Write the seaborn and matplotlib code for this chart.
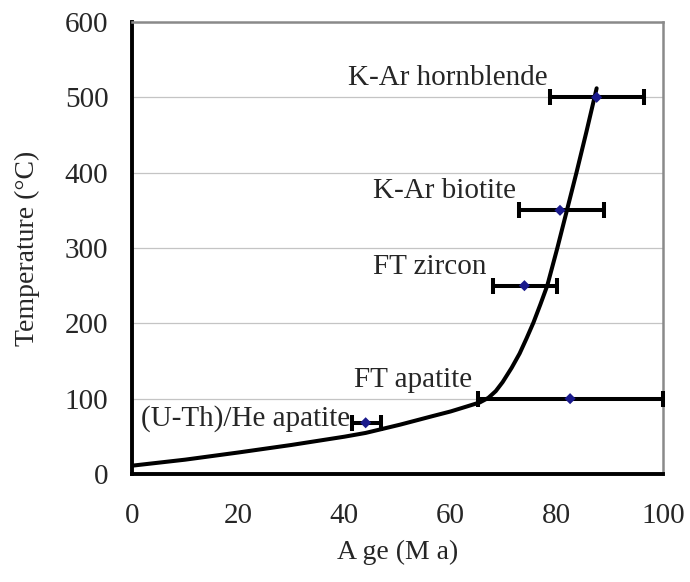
import numpy as np
import pandas as pd
import matplotlib
matplotlib.use("Agg")
import matplotlib.pyplot as plt
import seaborn as sns

# thermal history curve
curve_age = [0, 10, 20, 30, 40, 44, 50.5, 56.7, 60, 63, 65.5, 67.1, 68.5, 69.8, 71.5,
             73.0, 74.3, 75.6, 76.9, 78.2, 80.1, 81.9, 83.7, 85.6, 87.5]
curve_temp = [11, 19, 28.5, 38.5, 49.5, 54.5, 65.5, 77, 83, 89.5, 95, 101, 110, 122, 141,
              160, 180, 201, 225, 250, 300, 350, 400, 455, 512]

# thermochronometers
systems = ["K-Ar hornblende", "K-Ar biotite", "FT zircon", "FT apatite", "(U-Th)/He apatite"]
ages = [87.5, 80.6, 73.9, 82.5, 44.0]
age_min = [78.7, 72.8, 67.9, 65.2, 41.5]
age_max = [96.4, 88.8, 80.0, 100.0, 46.8]
temps = [500, 350, 250, 100, 68]

# label anchors (right end, baseline)
label_x = [78.2, 72.3, 66.8, 64.0, 41.0]
label_y = [516, 366, 266, 115, 64]

sns.set_style("white")
plt.rcParams["font.family"] = ["Liberation Serif", "DejaVu Serif"]

df_curve = pd.DataFrame({"age": curve_age, "temp": curve_temp})
df_pts = pd.DataFrame({"system": systems, "age": ages, "lo": age_min, "hi": age_max, "temp": temps})

fig = plt.figure(figsize=(6.9, 5.82), dpi=100)
ax = fig.add_axes([0.1913, 0.1856, 0.7696, 0.7766])

ax.set_xlim(0, 100)
ax.set_ylim(0, 600)
ax.set_yticks(range(0, 601, 100))
ax.set_xticks(range(0, 101, 20))
ax.yaxis.grid(True, color="#c4c4c4", lw=0.9)
ax.set_axisbelow(True)

sns.lineplot(data=df_curve, x="age", y="temp", sort=False, estimator=None,
             color="black", lw=2.9, ax=ax, zorder=3)

xerr = [df_pts["age"] - df_pts["lo"], df_pts["hi"] - df_pts["age"]]
ax.errorbar(df_pts["age"], df_pts["temp"], xerr=xerr, fmt="none", ecolor="black",
            elinewidth=2.9, capsize=5.5, capthick=2.9, zorder=4, clip_on=False)
sns.scatterplot(data=df_pts, x="age", y="temp", marker="D", color="#1a1a8c",
                s=32, edgecolor="none", ax=ax, zorder=5, clip_on=False)

for name, lx, ly in zip(systems, label_x, label_y):
    ax.text(lx, ly, name, ha="right", va="baseline", fontsize=21, zorder=6)

for side in ["left", "bottom"]:
    ax.spines[side].set_color("black")
    ax.spines[side].set_linewidth(2.8)
for side in ["top", "right"]:
    ax.spines[side].set_color("#8a8a8a")
    ax.spines[side].set_linewidth(1.8)

ax.tick_params(axis="both", direction="in", length=7, width=2.4, color="black",
               labelsize=21, top=False, right=False)
ax.tick_params(axis="x", pad=21)
ax.tick_params(axis="y", pad=17)

ax.set_xlabel("A ge (M a)", fontsize=20, labelpad=8)
ax.set_ylabel("Temperature (°C)", fontsize=20, labelpad=18)

fig.savefig("out.png", dpi=100)
